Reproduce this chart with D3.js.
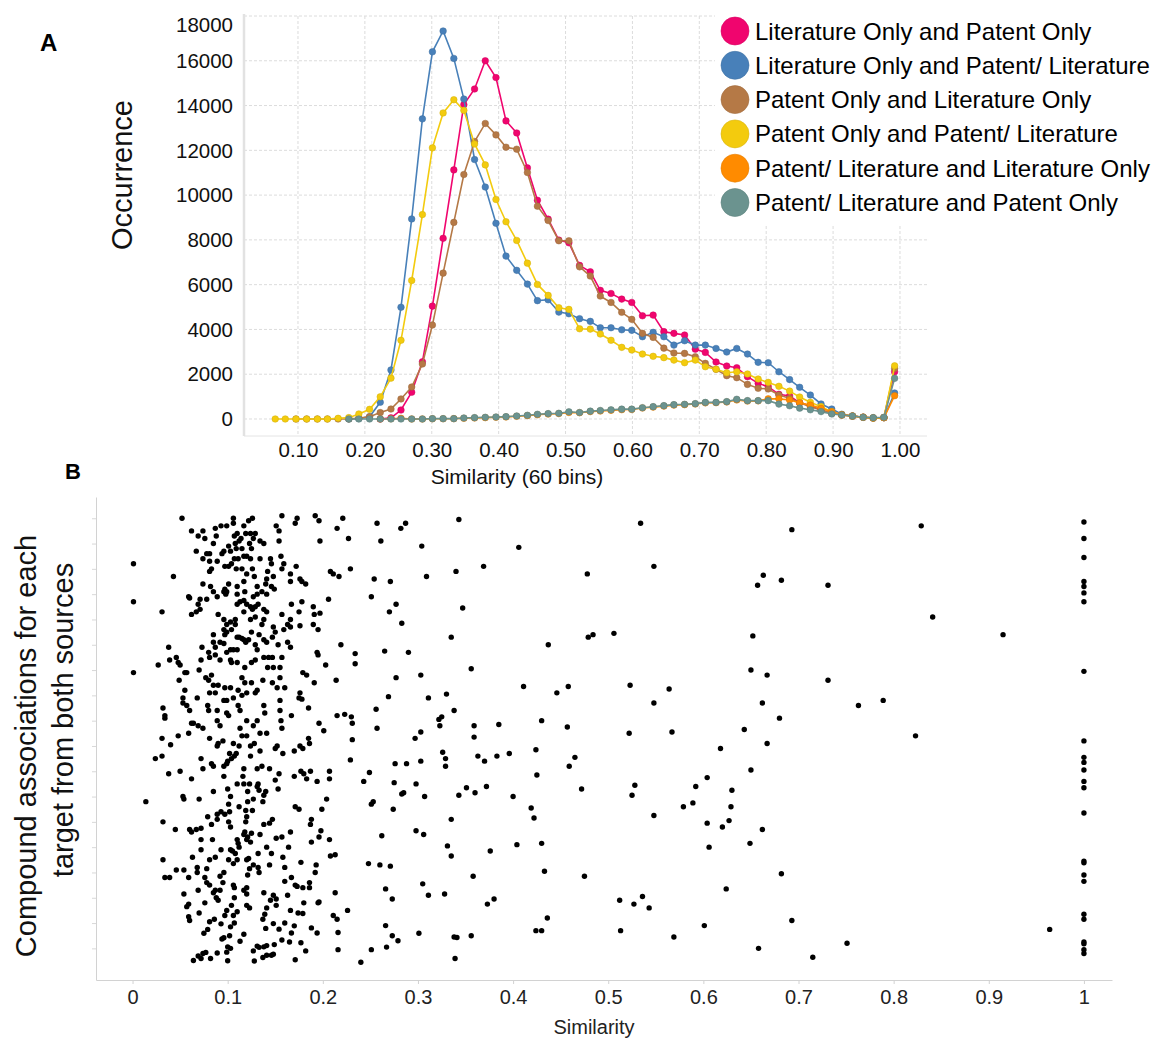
<!DOCTYPE html>
<html>
<head>
<meta charset="utf-8">
<script src="https://cdn.jsdelivr.net/npm/d3@7"></script>
<style>
  body { margin: 0; background: #fff; }
  svg { font-family: "Liberation Sans", Arial, sans-serif; }
</style>
</head>
<body>
<svg id="fig" width="1162" height="1039"></svg>
<script>
// ---- panel A : histogram of similarities, 60 bins ----
const binCenters = [0.066, 0.081, 0.097, 0.113, 0.129, 0.144, 0.160, 0.176, 0.191, 0.207,
  0.223, 0.239, 0.254, 0.270, 0.286, 0.301, 0.317, 0.333, 0.348, 0.364,
  0.380, 0.396, 0.411, 0.427, 0.443, 0.458, 0.474, 0.490, 0.505, 0.521,
  0.537, 0.552, 0.568, 0.584, 0.599, 0.615, 0.631, 0.647, 0.662, 0.678,
  0.694, 0.709, 0.725, 0.741, 0.756, 0.772, 0.788, 0.803, 0.819, 0.835,
  0.850, 0.866, 0.882, 0.898, 0.913, 0.929, 0.945, 0.960, 0.976, 0.992];

const litOnlyPatOnly = [null, null, null, null, null, null, null, null, null, null,
  0, 50, 400, 1195, 2555, 5040, 8070, 11125, 14040, 14740,
  16000, 15250, 13315, 12775, 11215, 9770, 8925, 7990, 7870, 6860,
  6575, 5745, 5605, 5355, 5205, 4610, 4640, 3900, 3825, 3750,
  3120, 2975, 2545, 2365, 2290, 1890, 1590, 1445, 1100, 1025,
  725, 595, 400, 255, 175, 130, 80, 40, 60, 2110];

const litOnlyPatLit = [null, null, null, null, null, null, null, 0, 20, 100,
  745, 2190, 4990, 8935, 13405, 16400, 17330, 16105, 14290, 11590,
  10360, 8740, 7275, 6640, 6025, 5285, 5325, 4775, 4700, 4480,
  4360, 4075, 4075, 3985, 3960, 3675, 3870, 3675, 3300, 3495,
  3300, 3300, 3150, 2990, 3150, 2900, 2530, 2515, 2110, 1760,
  1415, 1070, 670, 445, 210, 130, 80, 40, 60, 1160];

const patOnlyLitOnly = [null, null, 0, 0, 0, 0, 0, 0, 40, 100,
  285, 445, 895, 1430, 2455, 4195, 6515, 8780, 10920, 12395,
  13200, 12690, 12140, 12050, 11010, 9505, 8865, 7960, 7960, 6795,
  6385, 5490, 5205, 4765, 4450, 3825, 3645, 3165, 2945, 2930,
  2780, 2485, 2220, 1935, 1845, 1545, 1370, 1340, 1070, 925,
  725, 550, 400, 255, 175, 130, 80, 40, 60, 2260];

const patOnlyPatLit = [0, 0, 0, 0, 0, 0, 30, 60, 225, 430,
  990, 1825, 3515, 6185, 9130, 12110, 13670, 14260, 13785, 12285,
  11350, 9805, 8810, 7975, 6960, 6010, 5520, 4970, 4895, 4030,
  4015, 3795, 3515, 3200, 3080, 2900, 2800, 2740, 2630, 2515,
  2630, 2335, 2220, 2065, 2110, 2010, 1785, 1635, 1460, 1245,
  980, 745, 550, 325, 175, 130, 80, 40, 60, 2375];

const patLitLitOnly = [null, null, null, null, null, null, null, null, null, null,
  0, 10, 30, 0, 0, 10, 10, 15, 30, 45,
  60, 75, 90, 120, 150, 190, 220, 240, 290, 280,
  330, 355, 385, 415, 425, 490, 530, 575, 620, 640,
  670, 720, 730, 760, 850, 800, 810, 900, 900, 850,
  725, 620, 475, 325, 195, 130, 80, 50, 60, 1040];

const patLitPatOnly = [null, null, null, null, null, null, null, 0, 0, 0,
  0, 0, 0, 0, 0, 15, 15, 15, 45, 60,
  75, 90, 105, 135, 165, 210, 240, 255, 320, 290,
  350, 380, 410, 440, 440, 505, 550, 595, 640, 655,
  685, 740, 740, 775, 880, 820, 820, 820, 665, 590,
  485, 410, 330, 225, 180, 130, 75, 60, 75, 1815];

const seriesNames = ['Literature Only and Patent Only', 'Literature Only and Patent/ Literature',
  'Patent Only and Literature Only', 'Patent Only and Patent/ Literature',
  'Patent/ Literature and Literature Only', 'Patent/ Literature and Patent Only'];
const seriesColors = ['#f0056e', '#4880b9', '#b57946', '#f3cb0e', '#ff8b00', '#6b938f'];
const seriesValues = [litOnlyPatOnly, litOnlyPatLit, patOnlyLitOnly, patOnlyPatLit, patLitLitOnly, patLitPatOnly];

const histXTicks = [0.1, 0.2, 0.3, 0.4, 0.5, 0.6, 0.7, 0.8, 0.9, 1.0];
const histYTicks = [0, 2000, 4000, 6000, 8000, 10000, 12000, 14000, 16000, 18000];

// ---- panel B : compound associations, [similarity, target row] ----
const assocPoints = [
  [0.052,17.0],[0.106,17.0],[0.106,16.8],[0.126,17.0],[0.122,16.9],[0.117,16.7],[0.157,17.1],[0.173,17.0],[0.171,16.8],[0.192,17.1],[0.196,16.9],
  [0.062,16.5],[0.074,16.5],[0.069,16.3],[0.076,16.2],[0.087,16.6],[0.088,16.3],[0.093,16.7],[0.099,16.7],[0.107,16.3],[0.110,16.4],[0.114,16.2],[0.119,16.4],[0.124,16.4],[0.129,16.4],[0.127,16.2],[0.134,16.1],[0.138,16.0],[0.151,16.7],[0.154,16.5],[0.154,16.1],[0.215,16.6],[0.197,16.1],
  [0.112,16.1],[0.108,16.0],[0.101,15.9],[0.123,16.0],[0.125,15.8],[0.096,15.7],[0.103,15.7],[0.109,15.8],[0.115,15.8],[0.067,15.7],[0.078,15.6],[0.081,15.6],[0.085,16.0],[0.094,15.6],[0.156,15.5],
  [0.074,15.4],[0.081,15.3],[0.089,15.3],[0.097,15.1],[0.101,15.1],[0.104,15.2],[0.107,15.4],[0.111,15.4],[0.117,15.5],[0.120,15.5],[0.124,15.4],[0.134,15.4],[0.145,15.4],[0.146,15.2],[0.159,15.2],[0.157,15.0],[0.109,15.0],[0.115,15.0],[0.126,15.0],[0.083,15.0],[0.081,14.9],[0.172,15.1],[0.001,15.2],[0.043,14.7],
  [0.120,14.8],[0.128,14.7],[0.142,14.9],[0.141,14.6],[0.148,14.7],[0.166,14.8],[0.166,14.5],[0.176,14.6],[0.178,14.5],[0.182,14.4],[0.208,14.9],[0.211,14.8],[0.217,14.7],[0.074,14.4],[0.082,14.3],[0.101,14.4],[0.097,14.2],[0.110,14.3],[0.117,14.5],[0.131,14.3],[0.140,14.4],[0.146,14.3],[0.149,14.2],
  [0.059,13.9],[0.060,13.85],[0.071,13.8],[0.069,13.6],[0.078,13.8],[0.085,14.1],[0.089,13.9],[0.096,14.1],[0.099,14.1],[0.098,14.0],[0.110,14.0],[0.118,14.1],[0.127,13.9],[0.131,14.0],[0.136,14.1],[0.141,14.0],[0.167,13.6],[0.178,13.7],[0.190,13.5],[0.206,13.8],[0.001,13.7],
  [0.062,13.2],[0.067,13.3],[0.071,13.4],[0.110,13.6],[0.113,13.7],[0.117,13.75],[0.120,13.6],[0.124,13.5],[0.126,13.4],[0.129,13.5],[0.132,13.6],[0.138,13.4],[0.141,13.3],[0.117,13.3],[0.124,13.0],[0.090,13.2],[0.096,13.0],[0.103,12.9],[0.108,13.0],[0.099,12.8],[0.129,13.1],[0.138,13.0],[0.136,12.8],[0.157,13.2],[0.166,13.0],[0.175,13.3],[0.191,13.2],[0.197,13.25],[0.031,13.3],[0.190,12.8],[0.195,12.6],
  [0.096,12.6],[0.099,12.5],[0.104,12.6],[0.108,12.8],[0.097,12.4],[0.085,12.4],[0.125,12.5],[0.133,12.4],[0.148,12.7],[0.150,12.5],[0.159,12.6],[0.163,12.8],[0.166,12.7],[0.176,12.75],[0.110,12.3],[0.115,12.25],
  [0.085,12.1],[0.087,11.9],[0.092,12.1],[0.096,12.05],[0.099,11.7],[0.103,11.8],[0.106,11.8],[0.110,11.8],[0.112,12.3],[0.117,12.2],[0.119,12.1],[0.122,12.2],[0.129,12.0],[0.131,11.8],[0.138,12.2],[0.141,12.1],[0.147,12.3],[0.153,12.0],[0.163,12.1],[0.166,11.9],[0.073,11.9],[0.080,11.7],[0.194,11.7],[0.195,11.6],[0.219,12.0],[0.038,11.9],
  [0.027,11.2],[0.039,11.4],[0.046,11.5],[0.048,11.3],[0.050,11.2],[0.057,10.9],[0.055,10.9],[0.072,11.4],[0.070,11.0],[0.081,11.5],[0.087,11.6],[0.092,11.4],[0.103,11.4],[0.104,11.3],[0.110,11.3],[0.118,11.1],[0.125,11.3],[0.129,11.4],[0.138,11.5],[0.143,11.5],[0.147,11.5],[0.142,11.1],[0.148,11.1],[0.155,11.1],[0.157,11.5],[0.203,11.2],[0.001,10.9],
  [0.049,10.6],[0.077,10.7],[0.080,10.6],[0.083,10.8],[0.085,10.4],[0.090,10.4],[0.097,10.3],[0.103,10.3],[0.111,10.2],[0.115,10.7],[0.118,10.5],[0.125,10.5],[0.129,10.1],[0.137,10.6],[0.147,10.5],[0.152,10.3],[0.155,10.7],[0.160,10.3],[0.179,10.9],[0.183,10.8],[0.191,10.5],[0.214,10.6],
  [0.055,10.2],[0.053,9.9],[0.053,9.7],[0.057,9.6],[0.068,9.9],[0.079,9.6],[0.081,10.1],[0.087,10.1],[0.096,9.8],[0.099,9.8],[0.106,9.9],[0.111,9.6],[0.115,10.0],[0.120,10.1],[0.131,10.2],[0.138,9.6],[0.155,9.8],[0.176,10.1],[0.175,9.9],[0.178,9.85],[0.185,9.5],
  [0.032,9.5],[0.034,9.2],[0.034,9.1],[0.060,9.4],[0.064,8.9],[0.080,9.4],[0.089,9.4],[0.099,9.3],[0.101,9.2],[0.113,9.4],[0.120,9.0],[0.131,9.0],[0.139,9.3],[0.155,9.4],[0.156,9.0],[0.167,9.2],[0.215,9.2],[0.196,8.9],
  [0.031,8.3],[0.048,8.4],[0.059,8.5],[0.062,8.9],[0.069,8.8],[0.074,8.7],[0.081,8.3],[0.089,9.0],[0.092,8.8],[0.113,8.7],[0.115,8.4],[0.120,8.4],[0.127,8.8],[0.134,8.5],[0.141,8.5],[0.157,8.7],[0.185,8.3],[0.201,8.6],
  [0.040,8.05],[0.089,8.0],[0.090,8.1],[0.095,8.2],[0.106,8.1],[0.112,8.0],[0.124,8.0],[0.128,8.1],[0.150,7.9],[0.152,8.0],[0.158,7.7],[0.170,7.8],[0.176,8.0],[0.179,7.9],[0.186,8.1],[0.024,7.5],[0.031,7.6],[0.072,7.5],[0.074,7.1],[0.083,7.3],[0.085,7.2],[0.096,7.2],[0.099,7.3],[0.102,7.7],[0.104,7.5],[0.107,7.6],[0.109,7.7],[0.124,7.6],[0.134,7.8],
  [0.038,6.9],[0.050,7.0],[0.062,6.7],[0.096,6.8],[0.100,7.4],[0.117,7.1],[0.116,6.8],[0.131,7.1],[0.136,7.2],[0.144,7.1],[0.150,6.65],[0.154,6.9],[0.170,6.8],[0.177,7.0],[0.180,6.9],[0.183,6.7],[0.187,7.0],[0.194,6.6],[0.207,7.0],[0.207,6.7],[0.110,6.5],[0.117,6.5],[0.123,6.5],[0.132,6.5],
  [0.014,5.8],[0.053,6.0],[0.054,5.9],[0.070,5.9],[0.085,6.2],[0.100,6.3],[0.103,6.0],[0.101,5.7],[0.112,5.6],[0.121,6.2],[0.121,5.8],[0.127,5.9],[0.131,6.4],[0.133,6.25],[0.138,6.05],[0.137,5.8],[0.140,6.2],[0.153,6.3],[0.171,5.6],[0.175,5.5],[0.199,5.5],[0.204,5.9],
  [0.032,5.0],[0.045,4.7],[0.060,4.7],[0.062,4.6],[0.067,4.7],[0.072,4.75],[0.079,5.2],[0.083,4.9],[0.089,5.3],[0.093,5.4],[0.097,5.3],[0.102,5.4],[0.101,5.0],[0.103,4.8],[0.089,5.1],[0.119,5.45],[0.119,5.0],[0.120,5.2],[0.126,5.45],[0.138,4.9],[0.144,4.95],[0.147,5.1],[0.166,4.6],[0.187,4.9],[0.188,5.1],[0.198,4.65],[0.196,4.4],[0.207,4.3],
  [0.072,4.3],[0.072,3.9],[0.084,4.3],[0.093,3.9],[0.103,3.9],[0.105,3.85],[0.108,3.75],[0.110,4.3],[0.111,4.15],[0.112,4.0],[0.117,4.5],[0.118,4.6],[0.120,4.3],[0.121,4.4],[0.124,4.2],[0.125,4.55],[0.132,3.75],[0.134,4.5],[0.141,4.0],[0.146,3.75],[0.151,4.35],[0.157,4.4],[0.164,4.0],[0.188,4.2],[0.208,3.65],[0.213,3.7],
  [0.032,3.5],[0.046,3.1],[0.054,3.1],[0.059,2.8],[0.063,3.6],[0.068,3.2],[0.068,3.0],[0.078,3.15],[0.081,3.5],[0.087,3.6],[0.092,2.85],[0.096,3.0],[0.101,3.5],[0.106,3.35],[0.110,3.5],[0.120,3.5],[0.122,3.55],[0.123,3.15],[0.127,3.3],[0.132,3.2],[0.133,3.0],[0.144,3.3],[0.160,3.2],[0.158,3.6],[0.177,3.4],[0.193,3.3],[0.192,3.0],
  [0.034,2.8],[0.039,2.8],[0.054,2.15],[0.069,2.3],[0.076,2.8],[0.078,2.6],[0.081,2.5],[0.085,2.2],[0.087,2.3],[0.088,2.0],[0.090,1.9],[0.092,2.3],[0.095,2.6],[0.106,2.5],[0.107,2.4],[0.107,2.0],[0.117,2.3],[0.120,2.4],[0.121,2.9],[0.120,2.15],[0.138,2.2],[0.145,1.9],[0.148,2.1],[0.151,1.95],[0.163,2.1],[0.160,2.65],[0.167,2.8],[0.171,2.5],[0.173,2.45],[0.179,2.4],[0.186,2.6],[0.186,2.4],[0.195,1.8],[0.213,2.2],
  [0.057,1.65],[0.059,1.75],[0.070,1.4],[0.076,1.8],[0.081,1.05],[0.086,1.15],[0.093,0.97],[0.097,1.3],[0.099,1.5],[0.104,1.7],[0.106,1.3],[0.110,1.45],[0.120,1.7],[0.123,1.6],[0.137,1.15],[0.139,1.35],[0.141,1.6],[0.151,1.7],[0.166,1.5],[0.174,1.4],[0.179,1.38],[0.180,1.8],[0.196,1.83],[0.211,1.3],[0.215,1.15],[0.059,1.25],[0.060,1.1],
  [0.075,0.6],[0.079,0.75],[0.094,0.37],[0.096,0.42],[0.102,0.5],[0.103,0.85],[0.107,1.0],[0.113,0.28],[0.117,0.56],[0.140,0.79],[0.148,0.98],[0.154,0.76],[0.160,1.0],[0.167,0.61],[0.170,0.89],[0.188,0.81],[0.194,0.61],[0.216,0.63],[0.157,0.33],[0.165,0.25],[0.177,0.22],[0.100,0.06],[0.103,0.0],[0.099,-0.15],[0.131,0.09],[0.133,0.04],[0.138,0.06],[0.141,0.11],[0.149,0.15],
  [0.064,-0.48],[0.069,-0.3],[0.072,-0.4],[0.074,-0.2],[0.077,-0.16],[0.082,-0.4],[0.089,-0.18],[0.100,-0.49],[0.127,-0.1],[0.128,-0.5],[0.137,-0.36],[0.141,-0.27],[0.146,-0.27],[0.148,-0.23],[0.171,-0.45],[0.182,-0.1],[0.216,-0.05],
  [0.221,17.0],[0.257,16.8],[0.282,16.6],[0.287,16.8],[0.343,16.95],[0.534,16.8],
  [0.227,16.2],[0.261,16.1],[0.304,15.9],[0.406,15.85],
  [0.229,15.0],[0.254,14.6],[0.271,14.5],[0.309,14.7],[0.340,14.9],[0.369,15.1],[0.478,14.8],[0.548,15.1],
  [0.251,13.9],[0.277,13.6],[0.270,13.3],[0.283,12.85],[0.347,13.45],
  [0.335,12.3],[0.437,12.0],[0.479,12.3],[0.484,12.4],[0.506,12.45],
  [0.234,11.65],[0.234,11.25],[0.265,11.75],[0.290,11.7],[0.356,11.05],
  [0.277,10.7],[0.303,10.8],[0.411,10.35],[0.446,10.1],[0.458,10.35],[0.523,10.4],[0.564,10.25],
  [0.269,9.95],[0.311,9.9],[0.330,10.05],[0.548,9.7],
  [0.223,9.25],[0.230,9.15],[0.231,8.9],[0.256,9.45],[0.257,8.7],[0.322,9.05],[0.325,9.15],[0.323,8.8],[0.338,9.4],[0.359,8.8],[0.359,8.35],[0.385,8.85],[0.430,9.0],[0.457,8.75],[0.522,8.5],[0.567,8.55],
  [0.231,8.25],[0.297,8.3],[0.303,8.55],
  [0.229,7.45],[0.276,7.3],[0.288,7.3],[0.303,7.4],[0.326,7.75],[0.329,7.5],[0.329,7.2],[0.363,7.6],[0.370,7.4],[0.383,7.6],[0.396,7.7],[0.424,7.85],[0.465,7.55],[0.459,7.2],[0.618,7.9],
  [0.249,6.95],[0.243,6.6],[0.275,6.55],[0.298,6.5],[0.283,6.1],[0.285,6.15],[0.307,6.0],[0.343,6.05],[0.351,6.35],[0.360,6.15],[0.372,6.4],[0.400,6.0],[0.425,6.85],[0.472,6.3],[0.528,6.45],[0.525,6.05],[0.592,6.4],[0.604,6.75],[0.630,6.25],
  [0.251,5.7],[0.253,5.8],[0.274,5.5],[0.335,5.1],[0.419,5.55],[0.422,5.15],[0.548,5.25],[0.579,5.6],[0.589,5.75],[0.629,5.6],[0.627,5.05],[0.620,4.8],[0.604,4.95],
  [0.262,4.45],[0.298,4.65],[0.306,4.5],[0.331,4.05],[0.335,3.65],[0.376,3.85],[0.404,4.1],[0.430,4.15],[0.606,4.0],
  [0.248,3.35],[0.260,3.3],[0.271,3.25],[0.358,2.85],[0.433,3.05],[0.475,2.85],
  [0.266,2.35],[0.273,1.95],[0.305,2.55],[0.311,2.1],[0.328,2.15],[0.373,1.75],[0.380,1.95],[0.512,1.9],[0.527,1.75],[0.536,2.05],[0.543,1.6],[0.624,2.35],[0.226,1.5],
  [0.266,0.9],[0.273,0.5],[0.279,0.3],[0.301,0.6],[0.338,0.45],[0.341,0.43],[0.356,0.5],[0.424,0.7],[0.430,0.7],[0.436,1.2],[0.513,0.7],[0.569,0.45],[0.601,0.9],
  [0.251,-0.05],[0.267,0.05],[0.240,-0.55],[0.339,-0.4],
  [0.693,16.55],[0.829,16.7],[1.0,16.85],[1.0,16.2],[1.0,15.45],[0.663,14.75],[0.657,14.35],[0.682,14.55],[0.731,14.35],[1.0,14.5],[1.0,14.3],[1.0,14.05],[1.0,13.7],
  [0.841,13.1],[0.652,12.35],[0.915,12.4],[1.0,10.95],[0.650,11.0],[0.667,10.8],[0.731,10.6],[0.662,9.7],[0.763,9.6],[0.789,9.8],[0.680,9.1],[0.643,8.65],[0.823,8.4],
  [0.667,8.1],[1.0,8.2],[1.0,7.55],[1.0,7.35],[1.0,7.05],[1.0,6.6],[1.0,6.35],[0.650,7.05],[1.0,5.35],[0.662,4.7],[0.649,4.15],[1.0,3.45],[1.0,3.38],[1.0,2.9],[1.0,2.65],
  [0.682,2.95],[0.693,1.1],[1.0,1.35],[1.0,1.15],[0.964,0.75],[0.658,0.0],[0.715,-0.35],[0.751,0.2],[1.0,0.25],[1.0,0.18],[1.0,-0.05],[1.0,-0.2]
];
const assocXTicks = [0, 0.1, 0.2, 0.3, 0.4, 0.5, 0.6, 0.7, 0.8, 0.9, 1];
const assocRowTicks = [0, 1, 2, 3, 4, 5, 6, 7, 8, 9, 10, 11, 12, 13, 14, 15, 16, 17];

const svg = d3.select('#fig');

// ---------------- panel A ----------------
const A = {left: 244, right: 927, top: 16, bottom: 436};
const xA = d3.scaleLinear().domain([0.0193, 1.0404]).range([A.left, A.right]);
const yA = d3.scaleLinear().domain([-760, 18000]).range([A.bottom, A.top]);

const gA = svg.append('g');

// dashed grid
gA.selectAll('.hgrid').data(histYTicks).join('line')
  .attr('x1', A.left).attr('x2', A.right)
  .attr('y1', d => yA(d)).attr('y2', d => yA(d))
  .attr('stroke', '#dcdcdc').attr('stroke-dasharray', '3,2');
gA.selectAll('.vgrid').data(histXTicks).join('line')
  .attr('x1', d => xA(d)).attr('x2', d => xA(d))
  .attr('y1', A.top).attr('y2', A.bottom)
  .attr('stroke', '#dcdcdc').attr('stroke-dasharray', '3,2');

// axis frame
gA.append('line').attr('x1', A.left).attr('x2', A.right).attr('y1', A.bottom).attr('y2', A.bottom)
  .attr('stroke', '#e4e4e4');
gA.append('line').attr('x1', A.left).attr('x2', A.left).attr('y1', A.top - 2).attr('y2', A.bottom)
  .attr('stroke', '#e2e2e2').attr('stroke-width', 2.5);

const yAxisA = gA.append('g').attr('transform', `translate(${A.left},0)`)
  .call(d3.axisLeft(yA).tickValues(histYTicks).tickFormat(d3.format('d')).tickSize(0).tickPadding(11));
yAxisA.select('.domain').remove();
yAxisA.selectAll('text').attr('font-size', '20.5px').attr('fill', '#111')
  .attr('dy', d => d === 18000 ? '0.75em' : '0.33em');

const xAxisA = gA.append('g').attr('transform', `translate(0,${A.bottom})`)
  .call(d3.axisBottom(xA).tickValues(histXTicks).tickFormat(d3.format('.2f')).tickSize(0).tickPadding(6));
xAxisA.select('.domain').remove();
xAxisA.selectAll('text').attr('font-size', '20.5px').attr('fill', '#111');

gA.append('text').attr('x', 517).attr('y', 484).attr('text-anchor', 'middle')
  .attr('font-size', '21px').attr('fill', '#111').text('Similarity (60 bins)');
gA.append('text').attr('transform', 'translate(132,175) rotate(-90)').attr('text-anchor', 'middle')
  .attr('font-size', '29px').attr('fill', '#111').text('Occurrence');

// series
const lineA = d3.line()
  .defined(d => d.v !== null)
  .x(d => xA(d.x)).y(d => yA(d.v));

seriesValues.forEach((vals, k) => {
  const pts = binCenters.map((x, i) => ({x: x, v: vals[i]}));
  const col = seriesColors[k];
  const s = gA.append('g');
  s.append('path').datum(pts).attr('d', lineA)
    .attr('fill', 'none').attr('stroke', col).attr('stroke-width', 1.6);
  s.selectAll('circle').data(pts.filter(d => d.v !== null)).join('circle')
    .attr('cx', d => xA(d.x)).attr('cy', d => yA(d.v)).attr('r', 3.3)
    .attr('fill', col).attr('stroke', d3.color(col).darker(0.4)).attr('stroke-width', 0.5);
});

// legend (white box over the grid)
const leg = svg.append('g');
leg.append('rect').attr('x', 715).attr('y', 0).attr('width', 447).attr('height', 225).attr('fill', '#fff');
const legRows = leg.selectAll('.row').data(seriesNames).join('g')
  .attr('transform', (d, i) => `translate(735,${31 + i * 34.3})`);
legRows.append('circle').attr('r', 14).attr('fill', (d, i) => seriesColors[i])
  .attr('stroke', (d, i) => d3.color(seriesColors[i]).darker(0.3)).attr('stroke-width', 0.6);
legRows.append('text').attr('x', 20).attr('y', 8.5).attr('font-size', '24px').attr('fill', '#000').text(d => d);

svg.append('text').attr('x', 40).attr('y', 51).attr('font-size', '24px').attr('font-weight', 'bold').text('A');
svg.append('text').attr('x', 65).attr('y', 479).attr('font-size', '22px').attr('font-weight', 'bold').text('B');

// ---------------- panel B ----------------
const B = {left: 96, right: 1112, top: 497, bottom: 980};
const xB = d3.scaleLinear().domain([-0.0384, 1.0295]).range([B.left, B.right]);
const yB = d3.scaleLinear().domain([-1.25, 17.84]).range([B.bottom, B.top]);

const gB = svg.append('g');

const xAxisB = gB.append('g').attr('transform', `translate(0,${B.bottom})`)
  .call(d3.axisBottom(xB).tickValues(assocXTicks).tickFormat(d => String(+d.toFixed(1)))
    .tickSize(4).tickSizeOuter(0).tickPadding(6));
xAxisB.select('.domain').attr('stroke', '#d2d2d2');
xAxisB.selectAll('line').attr('stroke', '#d2d2d2');
xAxisB.selectAll('text').attr('font-size', '20px').attr('fill', '#222');

const yAxisB = gB.append('g').attr('transform', `translate(${B.left},0)`)
  .call(d3.axisLeft(yB).tickValues(assocRowTicks).tickFormat('').tickSize(4).tickSizeOuter(0));
yAxisB.select('.domain').attr('stroke', '#d2d2d2');
yAxisB.selectAll('line').attr('stroke', '#d8d8d8');

gB.selectAll('.pt').data(assocPoints).join('circle')
  .attr('cx', d => xB(d[0])).attr('cy', d => yB(d[1])).attr('r', 2.7).attr('fill', '#000');

gB.append('text').attr('x', 594).attr('y', 1034).attr('text-anchor', 'middle')
  .attr('font-size', '20px').attr('fill', '#222').text('Similarity');
gB.append('text').attr('transform', 'translate(36,746) rotate(-90)').attr('text-anchor', 'middle')
  .attr('font-size', '29px').attr('fill', '#111').text('Compound associations for each');
gB.append('text').attr('transform', 'translate(73,720) rotate(-90)').attr('text-anchor', 'middle')
  .attr('font-size', '29px').attr('fill', '#111').text('target from both sources');
</script>
</body>
</html>
